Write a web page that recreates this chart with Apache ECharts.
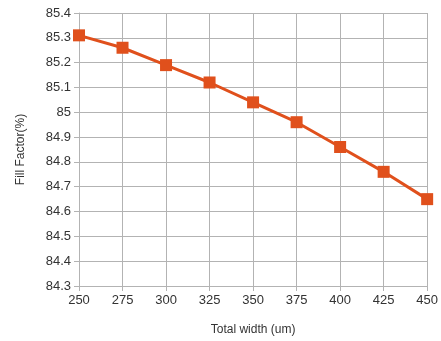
<!DOCTYPE html>
<html><head><meta charset="utf-8">
<script src="https://cdn.jsdelivr.net/npm/echarts@6/dist/echarts.min.js"></script>
<style>html,body{margin:0;padding:0;background:#fff}#c{width:441px;height:341px}</style>
</head><body><div id="c"></div>
<script>
const widths = [250, 275, 300, 325, 350, 375, 400, 425, 450];
const fillFactor = [85.31, 85.26, 85.19, 85.12, 85.04, 84.96, 84.86, 84.76, 84.65];
const xName = 'Total width (um)';
const yName = 'Fill Factor(%)';
const chart = echarts.init(document.getElementById('c'), null, {renderer: 'canvas'});
const font = 'Liberation Sans';
chart.setOption({
  animation: false,
  grid: {left: 79, right: 13, top: 13, bottom: 53},
  xAxis: {
    type: 'value', min: 250, max: 450, interval: 25,
    name: xName, nameLocation: 'middle', nameGap: 38,
    nameTextStyle: {fontFamily: font, fontSize: 12, color: '#333'},
    axisLine: {show: true, lineStyle: {color: '#b3b3b3'}},
    axisTick: {show: true, length: 5, lineStyle: {color: '#b3b3b3'}},
    axisLabel: {fontFamily: font, fontSize: 13, color: '#333', margin: 8},
    splitLine: {show: true, lineStyle: {color: '#b3b3b3'}}
  },
  yAxis: {
    type: 'value', min: 84.3, max: 85.4, interval: 0.1,
    name: yName, nameLocation: 'middle', nameGap: 52,
    nameTextStyle: {fontFamily: font, fontSize: 12, color: '#333'},
    axisLine: {show: true, lineStyle: {color: '#b3b3b3'}},
    axisTick: {show: true, length: 5, lineStyle: {color: '#b3b3b3'}},
    axisLabel: {fontFamily: font, fontSize: 13, color: '#333', margin: 8,
      formatter: v => String(Math.round(v * 10) / 10)},
    splitLine: {show: true, lineStyle: {color: '#b3b3b3'}}
  },
  series: [{
    type: 'line',
    data: widths.map((w, i) => [w, fillFactor[i]]),
    symbol: 'rect', symbolSize: 12,
    lineStyle: {color: '#e0501c', width: 3},
    itemStyle: {color: '#e0501c'}
  }]
});
</script></body></html>
